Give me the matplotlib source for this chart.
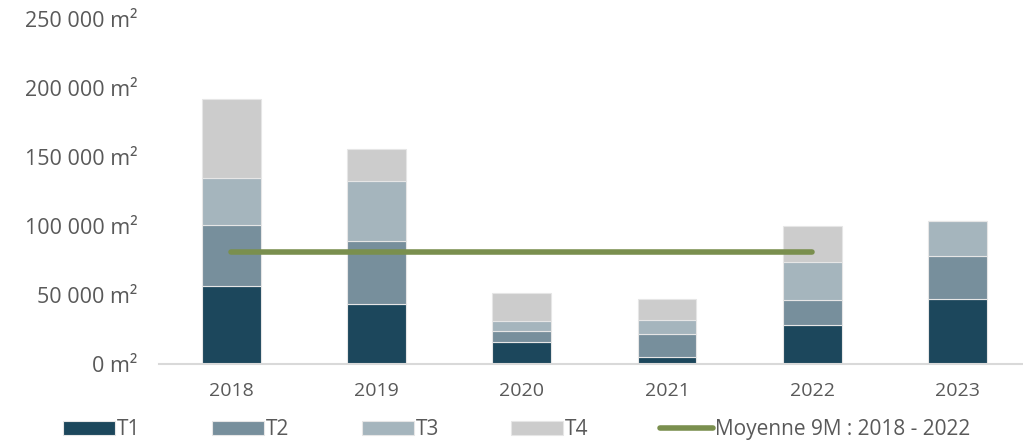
import matplotlib
matplotlib.use("Agg")
import matplotlib.pyplot as plt
from matplotlib.ticker import FuncFormatter, MultipleLocator
import numpy as np

plt.rcParams['font.family'] = ['Open Sans', 'DejaVu Sans']

years = ["2018", "2019", "2020", "2021", "2022", "2023"]
t1 = [56200, 43500, 15800, 4900, 28000, 46800]
t2 = [44100, 45700, 7900, 16400, 18400, 31100]
t3 = [34700, 43600, 7000, 10600, 27200, 25800]
t4 = [57000, 23200, 20200, 14700, 26500, 0]
mean_years = ["2018", "2019", "2020", "2021", "2022"]
mean_values = [80800, 80800, 80800, 80800, 80800]

series = [("T1", t1, "#1C475C"), ("T2", t2, "#778F9C"),
          ("T3", t3, "#A5B5BD"), ("T4", t4, "#CCCCCC")]

fig = plt.figure(figsize=(10.23, 4.45), dpi=100)
ax = fig.add_axes([0.155, 0.183, 0.845, 0.774])

x = np.arange(len(years))
bottom = np.zeros(len(years))
handles = []
for name, vals, col in series:
    v = np.array(vals, dtype=float)
    b = ax.bar(x, v, width=0.405, bottom=bottom, color=col, label=name,
               edgecolor="#e6e6e6", linewidth=0.8, zorder=2)
    handles.append(b)
    bottom += v

mx = [years.index(y) for y in mean_years]
ln, = ax.plot(mx, mean_values, color="#7A8F4E", linewidth=4, solid_capstyle="round",
              label="Moyenne 9M : 2018 - 2022", zorder=3)
handles.append(ln)

ax.set_xlim(-0.5, 5.45)
ax.set_ylim(0, 250000)
ax.yaxis.set_major_locator(MultipleLocator(50000))
ax.yaxis.set_major_formatter(FuncFormatter(
    lambda v, p: "{:,.0f} m²".format(v).replace(",", " ")))
ax.set_xticks(x)
ax.set_xticklabels(years)

for s in ["top", "right", "left"]:
    ax.spines[s].set_visible(False)
ax.spines["bottom"].set_color("#D9D9D9")
ax.spines["bottom"].set_linewidth(1.5)
ax.tick_params(axis="y", length=0, pad=15, labelsize=15.5, labelcolor="#595959")
ax.tick_params(axis="x", length=0, pad=13, labelsize=14, labelcolor="#595959")

leg = fig.legend(handles=handles, labels=[h.get_label() for h in handles],
                 loc="center left", bbox_to_anchor=(0.053, 0.034), ncol=5,
                 frameon=False, fontsize=15, handlelength=2.5, handletextpad=0.1,
                 columnspacing=3.45, labelcolor="#595959", borderaxespad=0)

fig.savefig("out.png", dpi=100)
